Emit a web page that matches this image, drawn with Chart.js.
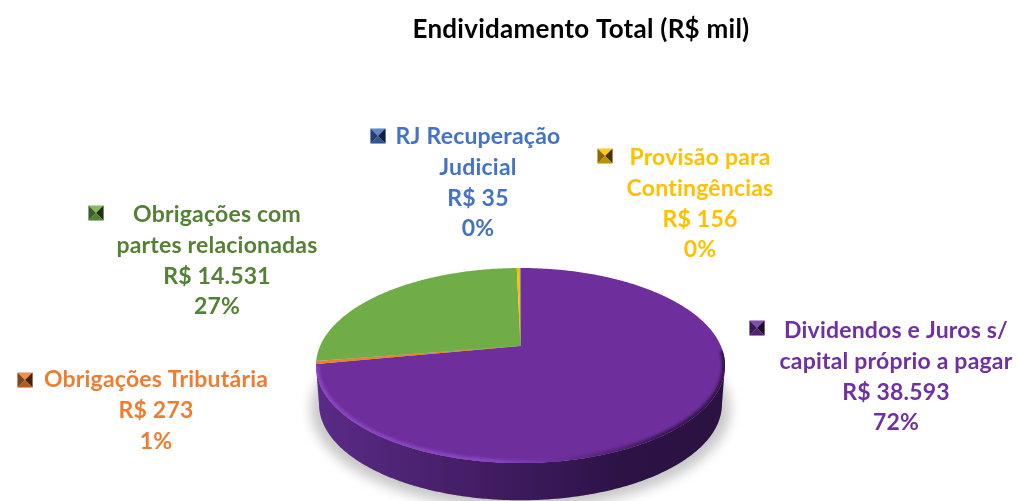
<!DOCTYPE html>
<html lang="pt-BR">
<head>
<meta charset="utf-8">
<title>Endividamento Total</title>
<script src="https://cdn.jsdelivr.net/npm/chart.js@4"></script>
<style>
  html, body { margin: 0; padding: 0; background: #fff; }
  /* the reference is a slightly soft screenshot */
  canvas { display: block; filter: blur(0.4px); }
</style>
</head>
<body>
<canvas id="chart" width="1019" height="501"></canvas>
<script>
const chartTitle = "Endividamento Total (R$ mil)";
const categories = [
  "Dividendos e Juros s/ capital próprio a pagar",
  "Obrigações Tributária",
  "Obrigações com partes relacionadas",
  "Provisão para Contingências",
  "RJ Recuperação Judicial"
];
const values = [38593, 273, 14531, 156, 35];
const sliceColors = ["#6E2E9C", "#ED7D31", "#70AD47", "#FFC000", "#4472C4"];
const textColors = ["#7030A0", "#ED7D31", "#548235", "#FFC000", "#4472C4"];

// How each category name wraps in its label
const labelLines = [
  ["Dividendos e Juros s/", "capital próprio a pagar"],
  ["Obrigações Tributária"],
  ["Obrigações com", "partes relacionadas"],
  ["Provisão para", "Contingências"],
  ["RJ Recuperação", "Judicial"]
];

// Label placement: text centre, first line y, and the little legend key
const labelBoxes = [
  { x: 896, y: 331, keyX: 757, keyY: 328 },
  { x: 156, y: 380, keyX: 25, keyY: 380 },
  { x: 217, y: 215, keyX: 96, keyY: 213 },
  { x: 700, y: 158, keyX: 605, keyY: 156 },
  { x: 478, y: 137, keyX: 378, keyY: 136 }
];

const LINE_HEIGHT = 30.6;
const LABEL_FONT = "bold 23px Lato";
const TITLE_FONT = "bold 26px Lato";

// Perspective of the disc, relative to the radius Chart.js gives the pie
const TILT = -0.2;
const STRETCH_X = 200.4 / 155;
const STRETCH_Y = 93.6 / 155;
const WALL_DEPTH = 39;
const WALL_SCALE = 0.985;

const total = values.reduce((a, b) => a + b, 0);
const formatMoney = v => "R$ " + String(v).replace(/\B(?=(\d{3})+$)/g, ".");
const formatPercent = v => Math.round(v / total * 100) + "%";

function project(arc, angle, scale = 1, shift = 0) {
  const u = Math.cos(angle), v = Math.sin(angle);
  const d = 1 + TILT * v;
  return {
    x: arc.x + arc.outerRadius * STRETCH_X * scale * u / d,
    y: arc.y + arc.outerRadius * STRETCH_Y * scale * v / d + shift
  };
}

function traceRim(ctx, arc, from, to, scale, shift, start) {
  const steps = Math.max(2, Math.ceil(Math.abs(to - from) / 0.01));
  for (let i = 0; i <= steps; i++) {
    const p = project(arc, from + (to - from) * i / steps, scale, shift);
    if (i === 0 && start) ctx.moveTo(p.x, p.y);
    else ctx.lineTo(p.x, p.y);
  }
}

function drawShadow(ctx, arc) {
  ctx.save();
  ctx.filter = "blur(6px)";
  ctx.fillStyle = "#c8c8c8";
  ctx.beginPath();
  traceRim(ctx, arc, 0, Math.PI * 2, 1.025, WALL_DEPTH + 4, true);
  ctx.fill();
  ctx.restore();
}

function drawWall(ctx, arc) {
  const tangent = Math.asin(-TILT);
  const left = project(arc, Math.PI - tangent).x;
  const right = project(arc, tangent).x;
  const shade = ctx.createLinearGradient(left, 0, right, 0);
  shade.addColorStop(0, "#5B2B87");
  shade.addColorStop(0.45, "#3F1B60");
  shade.addColorStop(0.75, "#2D1246");
  shade.addColorStop(1, "#2A1240");
  ctx.fillStyle = shade;
  ctx.beginPath();
  traceRim(ctx, arc, tangent, Math.PI - tangent, 1, 0, true);
  traceRim(ctx, arc, Math.PI - tangent, tangent, WALL_SCALE, WALL_DEPTH, false);
  ctx.closePath();
  ctx.fill();
}

function drawBevel(ctx, arc) {
  const left = project(arc, Math.PI).x;
  const right = project(arc, 0).x;
  const rim = ctx.createLinearGradient(left, 0, right, 0);
  rim.addColorStop(0, "#8A47C4");
  rim.addColorStop(0.42, "#8A47C4");
  rim.addColorStop(0.6, "#6A2D98");
  rim.addColorStop(0.85, "#35174F");
  rim.addColorStop(1, "#2F1447");
  ctx.save();
  ctx.beginPath();
  traceRim(ctx, arc, 0, Math.PI * 2, 1, 0, true);
  ctx.clip();
  ctx.filter = "blur(1.5px)";
  ctx.strokeStyle = rim;
  ctx.lineWidth = 6;
  ctx.beginPath();
  traceRim(ctx, arc, 0.05, 2.95, 1, 0, true);
  ctx.stroke();
  ctx.restore();
}

// The reference's legend keys are small bevelled squares
function drawKey(ctx, cx, cy, color) {
  const s = 7.5;
  const faces = [
    [[-s, -s], [s, -s], "rgba(255,255,255,0.15)"],
    [[s, -s], [s, s], "rgba(0,0,0,0.72)"],
    [[s, s], [-s, s], "rgba(0,0,0,0.25)"],
    [[-s, s], [-s, -s], "rgba(0,0,0,0.45)"]
  ];
  faces.forEach(([a, b, tint]) => {
    [color, tint].forEach(fill => {
      ctx.fillStyle = fill;
      ctx.beginPath();
      ctx.moveTo(cx + a[0], cy + a[1]);
      ctx.lineTo(cx + b[0], cy + b[1]);
      ctx.lineTo(cx, cy);
      ctx.closePath();
      ctx.fill();
    });
  });
}

const perspectivePie = {
  id: "perspectivePie",
  // Replaces the flat arcs with a tilted disc, using the angles Chart.js computed
  beforeDatasetDraw(chart, args) {
    const { ctx } = chart;
    const arcs = args.meta.data;
    ctx.save();
    drawShadow(ctx, arcs[0]);
    drawWall(ctx, arcs[0]);
    arcs.forEach((arc, i) => {
      ctx.fillStyle = sliceColors[i];
      ctx.beginPath();
      ctx.moveTo(arc.x, arc.y);
      traceRim(ctx, arc, arc.startAngle, arc.endAngle, 1, 0, false);
      ctx.closePath();
      ctx.fill();
    });
    drawBevel(ctx, arcs[0]);
    ctx.restore();
    return false;
  },
  afterDraw(chart) {
    const { ctx } = chart;
    ctx.save();
    ctx.textAlign = "center";
    ctx.textBaseline = "middle";
    ctx.fillStyle = "#000";
    ctx.font = TITLE_FONT;
    ctx.letterSpacing = "0.25px";
    ctx.fillText(chartTitle, 581, 30);

    ctx.font = LABEL_FONT;
    ctx.letterSpacing = "0.2px";
    categories.forEach((name, i) => {
      const box = labelBoxes[i];
      const lines = [...labelLines[i], formatMoney(values[i]), formatPercent(values[i])];
      ctx.fillStyle = textColors[i];
      lines.forEach((line, n) => ctx.fillText(line, box.x, box.y + n * LINE_HEIGHT));
      drawKey(ctx, box.keyX, box.keyY, sliceColors[i]);
    });
    ctx.restore();
  }
};

new Chart(document.getElementById("chart"), {
  type: "pie",
  data: {
    labels: categories,
    datasets: [{
      data: values,
      backgroundColor: sliceColors,
      borderWidth: 0
    }]
  },
  options: {
    responsive: false,
    animation: false,
    events: [],
    // Puts the pie's centre where the reference has its apex
    layout: { padding: { top: 191, bottom: 0, left: 365.5, right: 343.5 } },
    plugins: {
      legend: { display: false },
      title: { display: false },
      tooltip: { enabled: false }
    }
  },
  plugins: [perspectivePie]
});
</script>
</body>
</html>
